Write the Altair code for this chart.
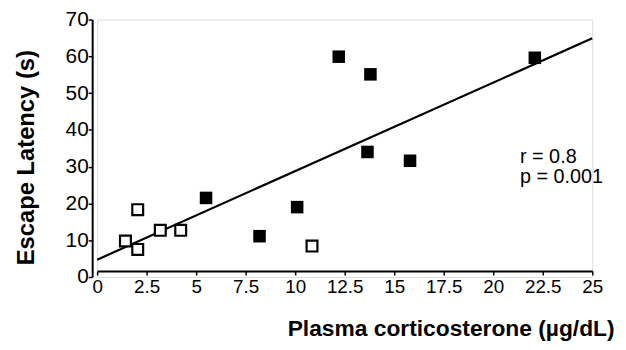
import altair as alt
import pandas as pd

# Open squares (group 1)
open_x = [1.43, 2.05, 2.05, 3.19, 4.22, 10.85]
open_y = [9.8, 18.3, 7.5, 12.7, 12.7, 8.4]
# Filled squares (group 2)
filled_x = [5.5, 8.2, 10.1, 12.2, 13.8, 13.65, 15.8, 22.1]
filled_y = [21.5, 11.1, 19.0, 59.9, 55.1, 34.0, 31.6, 59.6]
# Regression line end points
fit_x = [0, 25]
fit_y = [4.7, 64.9]
x_ticks = [0, 2.5, 5, 7.5, 10, 12.5, 15, 17.5, 20, 22.5, 25]
y_ticks = [0, 10, 20, 30, 40, 50, 60, 70]
annot = ["r = 0.8", "p = 0.001"]

df_open = pd.DataFrame({"x": open_x, "y": open_y})
df_filled = pd.DataFrame({"x": filled_x, "y": filled_y})
df_fit = pd.DataFrame({"x": fit_x, "y": fit_y})

FONT = "Liberation Sans"

xs = alt.Scale(domain=[0, 25], nice=False, zero=False)
ys = alt.Scale(domain=[0, 70], nice=False)

x_axis = alt.Axis(
    values=x_ticks, format=".1~f", grid=False, offset=-6,
    labelFont=FONT, labelFontSize=19, labelColor="black", labelPadding=3,
    labelOverlap=False,
    tickSize=4, tickColor="black", domainColor="black", domainWidth=2, tickWidth=1.5,
    title="Plasma corticosterone (µg/dL)", titleFont=FONT, titleFontSize=23,
    titleFontWeight="bold", titleColor="black", titleAlign="right",
    titleAnchor="end", titleX=522, titleY=58, titleBaseline="middle",
    labelFlush=False,
)
y_axis = alt.Axis(
    values=y_ticks, grid=False, offset=5,
    labelFont=FONT, labelFontSize=21, labelColor="black", labelPadding=0,
    labelOverlap=False,
    tickSize=4, tickColor="black", domainColor="black", domainWidth=2, tickWidth=1.5,
    title="Escape Latency (s)", titleFont=FONT, titleFontSize=24,
    titleFontWeight="bold", titleColor="black", titleX=-66, titleY=139,
    titleAngle=270, titleAlign="center", titleBaseline="middle",
)

X = alt.X("x:Q", scale=xs, axis=x_axis)
Y = alt.Y("y:Q", scale=ys, axis=y_axis)

line = alt.Chart(df_fit).mark_line(color="black", strokeWidth=2.2).encode(x=X, y=Y)
opens = alt.Chart(df_open).mark_point(
    shape="square", size=120, filled=False, stroke="black", strokeWidth=2.2,
    fill="white", fillOpacity=1, opacity=1,
).encode(x=X, y=Y)
filled = alt.Chart(df_filled).mark_point(
    shape="square", size=160, filled=True, color="black", opacity=1,
).encode(x=X, y=Y)

txt_r = alt.Chart(pd.DataFrame({"t": [annot[0]]})).mark_text(
    align="left", baseline="middle", font=FONT, fontSize=20, color="black",
).encode(x=alt.value(427), y=alt.value(139), text="t:N")
txt_p = alt.Chart(pd.DataFrame({"t": [annot[1]]})).mark_text(
    align="left", baseline="middle", font=FONT, fontSize=20, color="black",
).encode(x=alt.value(427), y=alt.value(159), text="t:N")

chart = alt.layer(line, opens, filled, txt_r, txt_p).properties(
    width=500, height=260,
    autosize=alt.AutoSizeParams(type="none"),
    padding={"left": 90, "top": 10, "right": 26, "bottom": 66},
).configure_view(stroke=None).configure(background="white")

chart.save("out.html", embed_options={"renderer": "svg", "actions": False})
